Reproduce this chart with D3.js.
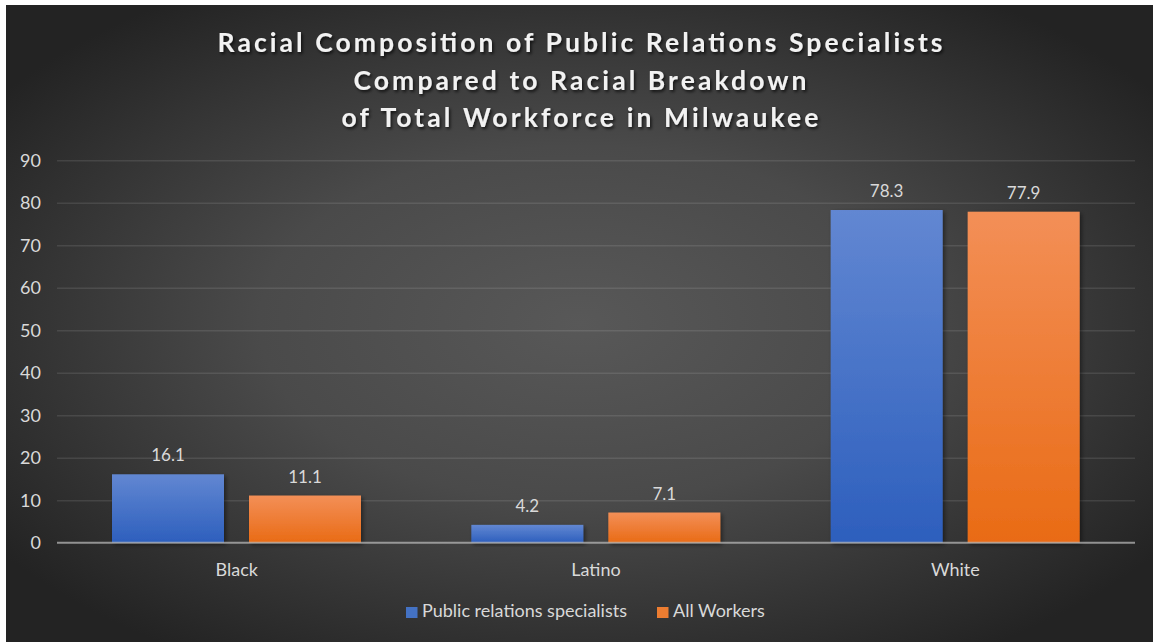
<!DOCTYPE html>
<html>
<head>
<meta charset="utf-8">
<script src="https://cdn.jsdelivr.net/npm/d3@7/dist/d3.min.js"></script>
<style>
  html, body { margin: 0; padding: 0; background: #ffffff; }
  svg { display: block; }
</style>
</head>
<body>
<svg id="chart" width="1153" height="642"></svg>
<script>
const titleLines = [
  "Racial Composition of Public Relations Specialists",
  "Compared to Racial Breakdown",
  "of Total Workforce in Milwaukee"
];
const categories = ["Black", "Latino", "White"];
const seriesNames = ["Public relations specialists", "All Workers"];
const specialists = [16.1, 4.2, 78.3];
const allWorkers = [11.1, 7.1, 77.9];
const yTicks = [0, 10, 20, 30, 40, 50, 60, 70, 80, 90];

const W = 1153, H = 642;
const svg = d3.select("#chart");
const defs = svg.append("defs");

// background gradient
const bg = defs.append("radialGradient").attr("id", "bg")
  .attr("cx", "50%").attr("cy", "50%").attr("r", "62%");
bg.append("stop").attr("offset", "0%").attr("stop-color", "#585858");
bg.append("stop").attr("offset", "45%").attr("stop-color", "#4a4a4a");
bg.append("stop").attr("offset", "100%").attr("stop-color", "#232323");

const gBlue = defs.append("linearGradient").attr("id", "gBlue")
  .attr("x1", 0).attr("y1", 0).attr("x2", 0).attr("y2", 1);
gBlue.append("stop").attr("offset", "0%").attr("stop-color", "#6287d2");
gBlue.append("stop").attr("offset", "100%").attr("stop-color", "#2d5fbd");
const gOrange = defs.append("linearGradient").attr("id", "gOrange")
  .attr("x1", 0).attr("y1", 0).attr("x2", 0).attr("y2", 1);
gOrange.append("stop").attr("offset", "0%").attr("stop-color", "#f38f57");
gOrange.append("stop").attr("offset", "100%").attr("stop-color", "#e96b15");

const shadow = defs.append("filter").attr("id", "shadow")
  .attr("x", "-20%").attr("y", "-20%").attr("width", "140%").attr("height", "140%");
shadow.append("feDropShadow").attr("dx", 2).attr("dy", 2).attr("stdDeviation", 2)
  .attr("flood-color", "#000").attr("flood-opacity", 0.45);

const tshadow = defs.append("filter").attr("id", "tshadow")
  .attr("x", "-5%").attr("y", "-30%").attr("width", "110%").attr("height", "160%");
tshadow.append("feDropShadow").attr("dx", 1.5).attr("dy", 2).attr("stdDeviation", 1.5)
  .attr("flood-color", "#000").attr("flood-opacity", 0.7);

svg.append("rect").attr("x", 6).attr("y", 5).attr("width", W - 6).attr("height", H - 5)
  .attr("fill", "url(#bg)");

const FONT = "Lato, 'Open Sans', sans-serif";
const textColor = "#d9d9d9";

// title
const titleBase = [51.5, 89.5, 126.5];
const titleWidths = [725, 453, 477];
svg.append("g").selectAll("text").data(titleLines).join("text")
  .attr("x", 580)
  .attr("y", (d, i) => titleBase[i])
  .attr("text-anchor", "middle")
  .attr("font-family", FONT)
  .attr("font-weight", "bold")
  .attr("font-size", 26.5)
  .attr("fill", "#f2f2f2")
  .attr("textLength", (d, i) => titleWidths[i])
  .attr("lengthAdjust", "spacing")
  .attr("filter", "url(#tshadow)")
  .text(d => d);

// scales
const x0 = d3.scaleBand().domain(categories).range([57, 1135]).padding(0);
const x1 = d3.scaleBand().domain(seriesNames).range([55, 304]).paddingInner(25 / 137).paddingOuter(0);
const y = d3.scaleLinear().domain([0, 90]).range([542.7, 160.3]);

// gridlines
const yAxis = d3.axisLeft(y).tickValues(yTicks).tickSize(-(1135 - 57)).tickPadding(16);
const gy = svg.append("g").attr("transform", "translate(57,0)").call(yAxis);
gy.select(".domain").remove();
gy.selectAll(".tick line").attr("stroke", "#ffffff").attr("stroke-opacity", 0.1).attr("stroke-width", 1.5);
gy.selectAll(".tick text").attr("fill", textColor).attr("font-family", FONT)
  .attr("font-size", 18).attr("dy", "0.34em");
gy.selectAll(".tick").filter(d => d === 0).select("line").attr("stroke-opacity", 0);

// bars
const data = categories.map((c, i) => ({ cat: c, vals: [specialists[i], allWorkers[i]] }));
const fills = ["url(#gBlue)", "url(#gOrange)"];
const groups = svg.append("g").selectAll("g").data(data).join("g")
  .attr("transform", d => `translate(${x0(d.cat)},0)`);
groups.selectAll("rect").data(d => d.vals.map((v, j) => ({ v, s: seriesNames[j], j }))).join("rect")
  .attr("x", d => x1(d.s))
  .attr("y", d => y(d.v))
  .attr("width", x1.bandwidth())
  .attr("height", d => y(0) - y(d.v))
  .attr("fill", d => fills[d.j])
  .attr("filter", "url(#shadow)");
groups.selectAll("text.lbl").data(d => d.vals.map((v, j) => ({ v, s: seriesNames[j], j }))).join("text")
  .attr("class", "lbl")
  .attr("x", d => x1(d.s) + x1.bandwidth() / 2)
  .attr("y", d => y(d.v) - 13)
  .attr("text-anchor", "middle")
  .attr("font-family", FONT)
  .attr("font-size", 17)
  .attr("fill", textColor)
  .text(d => d.v.toFixed(1));

// zero axis
svg.append("line").attr("x1", 57).attr("x2", 1135).attr("y1", y(0)).attr("y2", y(0))
  .attr("stroke", "#bfbfbf").attr("stroke-opacity", 0.7).attr("stroke-width", 2);

// category labels
const xAxis = d3.axisBottom(x0).tickSize(0).tickPadding(0);
const gx = svg.append("g").attr("transform", `translate(0,${y(0)})`).call(xAxis);
gx.select(".domain").remove();
gx.selectAll(".tick text").attr("fill", textColor).attr("font-family", FONT)
  .attr("font-size", 18).attr("dy", 0).attr("y", 33.5);

// legend
const legendX = [406, 657];
const leg = svg.append("g").selectAll("g").data(seriesNames).join("g")
  .attr("transform", (d, i) => `translate(${legendX[i]},0)`);
leg.append("rect").attr("x", 0).attr("y", 607).attr("width", 11.5).attr("height", 11)
  .attr("fill", (d, i) => i === 0 ? "#4472c4" : "#ed7d31");
leg.append("text").attr("x", 16).attr("y", 617)
  .attr("font-family", FONT).attr("font-size", 18).attr("fill", textColor)
  .text(d => d);
</script>
</body>
</html>
